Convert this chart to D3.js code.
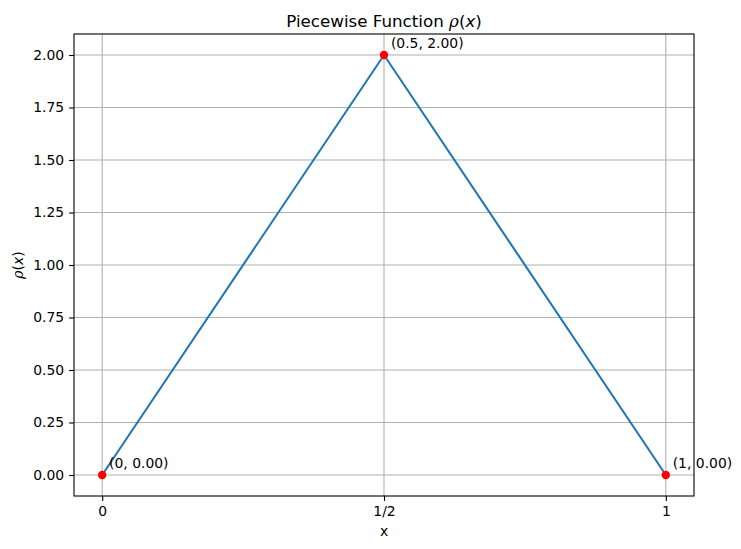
<!DOCTYPE html>
<html><head><meta charset="utf-8">
<script src="https://cdn.jsdelivr.net/npm/d3@7"></script>
<style>body{margin:0;background:#fff}svg{display:block;font-family:"DejaVu Sans",sans-serif}</style>
</head><body>
<script>
const xs = [0, 0.5, 1];
const ys = [0, 2, 0];
const pointLabels = ["(0, 0.00)", "(0.5, 2.00)", "(1, 0.00)"];
const xTicks = [0, 0.5, 1];
const xTickLabels = ["0", "1/2", "1"];
const yTicks = [0, 0.25, 0.5, 0.75, 1.0, 1.25, 1.5, 1.75, 2.0];

const W = 741, H = 549;
const m = {left: 74, top: 34, right: 741 - 694, bottom: 549 - 496};
const svg = d3.select("body").append("svg").attr("width", W).attr("height", H);
const x = d3.scaleLinear().domain([-0.05, 1.05]).range([m.left, W - m.right]);
const y = d3.scaleLinear().domain([-0.1, 2.1]).range([H - m.bottom, m.top]);

// grid
const g = svg.append("g");
g.selectAll(".gx").data(xTicks).join("line")
  .attr("x1", d => x(d)).attr("x2", d => x(d)).attr("y1", m.top).attr("y2", H - m.bottom)
  .attr("stroke", "#b0b0b0").attr("stroke-width", 1.1);
g.selectAll(".gy").data(yTicks).join("line")
  .attr("y1", d => y(d)).attr("y2", d => y(d)).attr("x1", m.left).attr("x2", W - m.right)
  .attr("stroke", "#b0b0b0").attr("stroke-width", 1.1);

// axes
const xAxis = d3.axisBottom(x).tickValues(xTicks).tickFormat((d, i) => xTickLabels[i]).tickSize(4.9).tickPadding(4.9);
const yAxis = d3.axisLeft(y).tickValues(yTicks).tickFormat(d3.format(".2f")).tickSize(4.9).tickPadding(4.9);
const ax = svg.append("g").attr("transform", `translate(0,${H - m.bottom})`).call(xAxis);
const ay = svg.append("g").attr("transform", `translate(${m.left},0)`).call(yAxis);
[ax, ay].forEach(a => {
  a.select(".domain").remove();
  a.selectAll("line").attr("stroke", "#000").attr("stroke-width", 1.1);
  a.selectAll("text").attr("fill", "#000").style("font-size", "13.9px").style("font-family", "DejaVu Sans");
});

// line
svg.append("path").datum(xs.map((d, i) => [d, ys[i]]))
  .attr("d", d3.line().x(d => x(d[0])).y(d => y(d[1])))
  .attr("fill", "none").attr("stroke", "#1f77b4").attr("stroke-width", 2.08);

// points
svg.selectAll(".pt").data(xs).join("circle")
  .attr("cx", d => x(d)).attr("cy", (d, i) => y(ys[i])).attr("r", 4.2).attr("fill", "red");

// annotations
svg.selectAll(".lab").data(xs).join("text")
  .attr("x", d => x(d) + 6.9).attr("y", (d, i) => y(ys[i]) - 6.9)
  .style("font-size", "13.9px").attr("fill", "#000").text((d, i) => pointLabels[i]);

// frame
svg.append("rect").attr("x", m.left).attr("y", m.top)
  .attr("width", W - m.right - m.left).attr("height", H - m.bottom - m.top)
  .attr("fill", "none").attr("stroke", "#000").attr("stroke-width", 1.1);

// title
const t = svg.append("text").attr("x", (m.left + W - m.right) / 2).attr("y", 27)
  .attr("text-anchor", "middle").style("font-size", "16.7px").attr("fill", "#000");
t.append("tspan").text("Piecewise Function ");
t.append("tspan").style("font-style", "italic").style("font-family", "DejaVu Serif").text("ρ");
t.append("tspan").text("(");
t.append("tspan").style("font-style", "italic").text("x");
t.append("tspan").text(")");

// x label
svg.append("text").attr("x", (m.left + W - m.right) / 2).attr("y", 536)
  .attr("text-anchor", "middle").style("font-size", "13.9px").attr("fill", "#000").text("x");

// y label
const yl = svg.append("text").attr("transform", `translate(23,${(m.top + H - m.bottom) / 2}) rotate(-90)`)
  .attr("text-anchor", "middle").style("font-size", "13.9px").attr("fill", "#000");
yl.append("tspan").style("font-style", "italic").style("font-family", "DejaVu Serif").text("ρ");
yl.append("tspan").text("(");
yl.append("tspan").style("font-style", "italic").text("x");
yl.append("tspan").text(")");
</script>
</body></html>
